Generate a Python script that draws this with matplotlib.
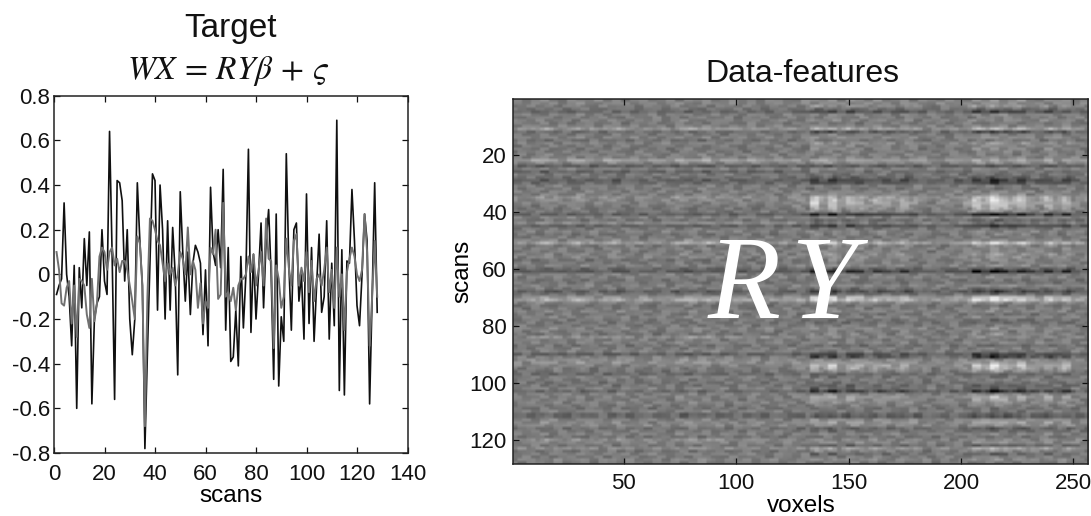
import numpy as np
import matplotlib
matplotlib.use("Agg")
import matplotlib.pyplot as plt

plt.rcParams['font.family'] = ['Liberation Sans', 'DejaVu Sans']
plt.rcParams['mathtext.fontset'] = 'stix'

# Left panel: values, one per scan (1..128)
target_dark = [
 -0.09,-0.05,-0.02,0.32,0.00,-0.10,-0.32,0.04,-0.60,0.03,
 -0.15,0.16,-0.05,0.19,-0.58,-0.20,-0.13,-0.10,0.20,-0.03,
 -0.09,0.64,0.10,-0.56,0.42,0.41,0.33,-0.03,0.20,-0.20,
 -0.36,-0.20,0.41,0.15,-0.05,-0.78,-0.35,0.05,0.45,0.42,
 -0.16,0.40,0.20,-0.20,0.24,-0.16,0.21,0.00,-0.45,0.37,
 0.10,-0.12,0.10,-0.18,0.05,0.13,0.10,0.05,-0.27,0.02,
 -0.32,0.39,0.10,0.04,0.20,0.03,0.47,-0.25,0.12,-0.39,
 -0.37,-0.16,-0.41,0.08,-0.24,0.00,0.56,-0.26,0.09,-0.20,
 0.00,0.23,-0.15,0.15,0.29,0.00,-0.47,0.27,-0.50,-0.19,
 -0.30,0.54,0.05,-0.25,0.20,0.23,-0.12,0.00,-0.29,0.36,
 -0.22,0.12,-0.30,-0.05,0.18,-0.17,-0.10,0.24,-0.29,0.05,
 -0.23,0.69,-0.52,0.11,-0.54,0.06,0.05,0.38,0.15,-0.14,
 -0.23,0.00,0.27,0.15,-0.58,-0.10,0.41,-0.17]
target_gray = [
 0.10,0.02,-0.13,-0.14,-0.06,-0.03,-0.22,-0.05,-0.28,-0.02,
 -0.03,-0.05,-0.18,-0.24,-0.02,-0.21,-0.13,0.08,0.12,0.10,
 0.02,0.10,0.12,0.04,0.07,0.01,0.06,0.06,0.02,-0.05,
 -0.12,-0.20,0.17,0.14,-0.05,-0.68,-0.10,0.25,0.24,0.20,
 0.15,0.13,0.05,-0.03,0.05,0.00,0.03,-0.05,0.00,0.10,
 0.07,0.00,0.21,0.00,0.06,0.02,-0.15,-0.04,-0.22,-0.12,
 -0.15,0.12,0.09,0.20,-0.11,-0.09,0.32,-0.10,-0.08,-0.12,
 -0.06,-0.16,-0.05,-0.02,-0.02,0.00,0.08,0.01,0.09,-0.05,
 0.02,0.10,-0.05,0.25,0.07,0.06,-0.33,0.04,-0.02,-0.15,
 -0.10,0.16,0.03,-0.05,0.15,0.18,-0.05,0.03,-0.03,0.10,
 -0.08,0.06,-0.12,-0.02,0.00,-0.05,0.02,0.12,-0.08,0.02,
 -0.15,0.12,-0.10,0.00,-0.25,0.01,0.07,0.12,0.08,0.00,
 -0.03,0.02,0.27,0.10,-0.32,-0.10,0.15,-0.10]

# Right panel: stripes read per scan (1..128), on a -9..9 scale
row_base = [
 1,2,0,-1,-2,1,0,1,0,1,
 3,-1,0,1,-1,1,0,-1,0,1,
 1,5,1,-4,1,-3,0,-1,-3,-2,
 1,0,1,0,2,1,1,0,-1,0,
 -3,1,-1,3,-3,0,1,-1,0,1,
 4,-1,1,0,1,1,-1,0,1,-2,
 -4,1,1,-1,0,1,0,-3,-1,3,
 5,1,-1,0,1,0,1,0,-1,0,
 1,0,-1,1,0,1,-1,0,1,-3,
 1,2,2,1,0,-1,-2,1,0,-1,
 0,1,-2,1,1,0,1,0,-1,1,
 -2,-3,1,1,2,-1,0,1,-1,1,
 1,0,2,-1,1,0,1,0]
row_active = [
 2,1,4,-1,-6,1,1,1,0,1,
 6,-6,1,2,1,3,2,3,1,0,
 1,2,2,-2,1,2,-1,-3,-6,-5,
 0,-1,1,3,7,9,9,8,7,2,
 -9,1,-2,-3,-6,-1,1,2,0,1,
 8,3,1,2,3,2,3,1,2,-2,
 -9,-1,1,0,-1,2,-2,-5,-1,8,
 9,2,0,1,1,-1,1,-2,-1,1,
 2,1,3,1,0,1,-1,1,-1,-5,
 -9,1,4,9,8,4,-1,-2,1,0,
 -3,-4,-9,1,6,5,2,1,0,-1,
 -2,-3,3,5,1,-3,-2,1,0,1,
 2,-3,5,3,-4,1,2,0]
row_left = [
 1,0,1,0,-2,0,1,0,0,1,
 7,-2,0,1,-1,1,0,1,0,0,
 1,6,2,-3,1,-2,0,0,-3,-1,
 0,1,0,2,4,3,1,0,0,-1,
 -2,1,0,2,-3,0,1,0,0,3,
 8,1,0,1,1,2,-1,0,1,-2,
 -3,1,0,0,-1,1,0,-3,0,4,
 8,1,0,0,1,0,1,0,1,0,
 2,1,0,7,1,1,0,1,1,-4,
 1,3,5,1,0,0,-2,1,0,0,
 -1,1,-1,1,0,1,1,0,0,1,
 -3,0,1,3,1,0,0,1,0,6,
 2,0,3,0,1,0,2,1]
# per voxel-bin weights (4 voxels a bin, 64 bins)
col_active = [
 0,0,0,0,1,0,0,1,0,0,0,0,0,0,0,0,
 0,0,1,0,0,0,0,0,0,0,0,0,0,0,0,1,
 1,7,3,7,2,5,4,2,4,3,2,4,2,1,0,1,
 1,1,2,7,4,9,6,4,6,3,2,5,2,5,1,1]
col_left = [
 2,1,3,6,2,1,3,4,3,1,3,5,2,1,2,1,
 2,1,3,5,4,6,3,2,3,2,3,2,2,1,2,1,
 0,0,1,0,0,1,0,0,1,0,0,0,1,0,0,0,
 0,1,0,0,1,0,0,0,1,0,0,1,0,0,1,0]
# fine grain of the background, on a -5..5 scale
grain = [
 2,-3,1,4,-2,-4,3,0,-1,5,-3,2,-4,1,3,-2,-1,4,-5,2,
 0,3,-3,-1,4,-2,1,-4,3,2,-2,-3,5,-1,0,2,-4,3,1,-2,
 4,-3,-1,2,-5,3,1,-2,4,0,-3,2,-1,3,-4,1,5,-2,-3,1,2]

rows = np.array(row_base, float)
active = np.outer(row_active, np.repeat(col_active, 4)) * 1.25
left = np.outer(row_left, np.repeat(col_left, 4)) * 0.9
grain_line = np.resize(np.repeat(grain, 4), 256)
texture = np.array([np.roll(grain_line, 37 * r + 23 * r * r) for r in range(128)]) * 4.0
picture = 120 + rows[:, None] * 5 + active + left + texture

fig = plt.figure(figsize=(10.91, 5.16), dpi=100)
W, H = 1091.0, 516.0

def rect(l, t, r, b):
    return [l / W, 1 - b / H, (r - l) / W, (b - t) / H]

def put(x, y):
    return x / W, 1 - y / H

ax1 = fig.add_axes(rect(54, 95.7, 407.5, 453))
scans = np.arange(1, 129)
ax1.plot(scans, target_dark, color='#101010', lw=1.2)
ax1.plot(scans, target_gray, color='#707070', lw=1.4)
ax1.set_xlim(0, 140)
ax1.set_ylim(-0.8, 0.8)
ax1.set_xticks(np.arange(0, 141, 20))
ax1.set_yticks(np.arange(-0.8, 0.81, 0.2))
ax1.set_yticklabels(['-0.8', '-0.6', '-0.4', '-0.2', '0', '0.2', '0.4', '0.6', '0.8'])
ax1.set_xlabel('scans', fontsize=17.5, va='baseline')
ax1.xaxis.set_label_coords(*put(231, 502), transform=fig.transFigure)
fig.text(*put(230.5, 37), 'Target', fontsize=24, ha='center', va='baseline', color='#111111')
fig.text(*put(228, 79), r'$WX\,=\,RY\beta\,+\,\varsigma$', fontsize=24, ha='center', va='baseline', color='#111111')

ax2 = fig.add_axes(rect(512.5, 99, 1088, 464))
ax2.imshow(picture, cmap='gray', vmin=0, vmax=255, aspect='auto', interpolation='bilinear',
           extent=(0.5, 256.5, 128.5, 0.5))
ax2.set_xticks([50, 100, 150, 200, 250])
ax2.set_yticks([20, 40, 60, 80, 100, 120])
ax2.set_xlabel('voxels', fontsize=17.5, va='baseline')
ax2.xaxis.set_label_coords(*put(801, 512), transform=fig.transFigure)
ax2.set_ylabel('scans', fontsize=17.5, va='baseline')
ax2.yaxis.set_label_coords(*put(468, 271), transform=fig.transFigure)
fig.text(*put(802.5, 82), 'Data-features', fontsize=23, ha='center', va='baseline', color='#111111')
fig.text(*put(708, 318), 'R', fontsize=86, family='Liberation Serif', style='italic',
         color='white', ha='left', va='baseline')
fig.text(*put(857, 318), 'Y', fontsize=86, family='Liberation Serif', style='italic',
         color='white', ha='right', va='baseline')

for ax in (ax1, ax2):
    ax.tick_params(direction='in', top=True, right=True, length=4, width=0.9,
                   labelsize=16, colors='#111111')
    for s in ax.spines.values():
        s.set_linewidth(1.1)
        s.set_color('#222222')
ax1.tick_params(axis='x', pad=8)
ax1.tick_params(axis='y', pad=3)
ax2.tick_params(axis='x', pad=6.5)
ax2.tick_params(axis='y', pad=4)

fig.savefig('out.png', dpi=100)
